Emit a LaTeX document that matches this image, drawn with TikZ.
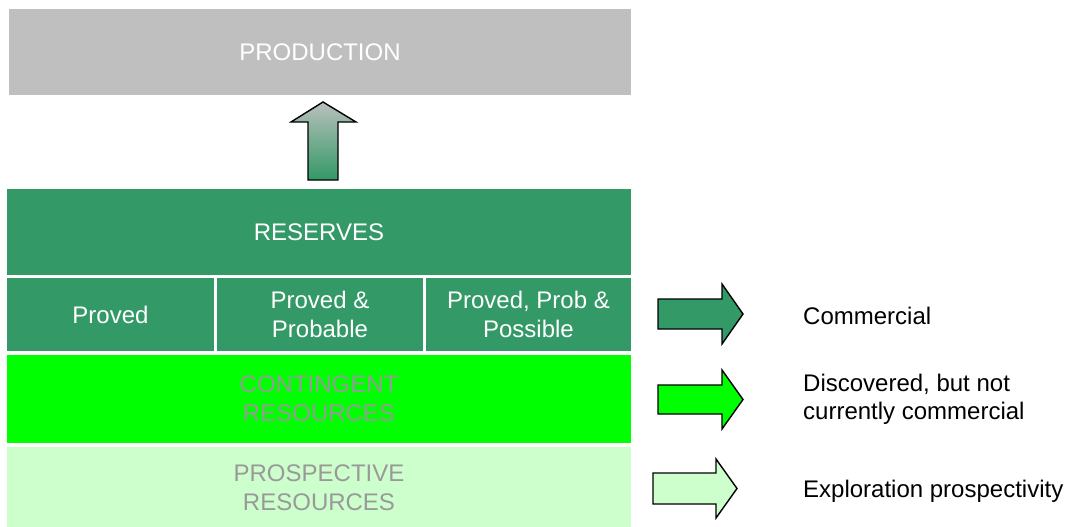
\documentclass[tikz,border=0pt]{standalone}
\usepackage{fontspec}
\setmainfont{Liberation Sans}
\definecolor{prodgray}{RGB}{191,191,191}
\definecolor{resgreen}{RGB}{51,153,102}
\definecolor{contgreen}{RGB}{0,255,0}
\definecolor{prospgreen}{RGB}{204,255,204}
\definecolor{dimtext}{RGB}{153,153,153}
\definecolor{arrowtop}{RGB}{184,192,188}
\tikzset{
  blk/.style={rectangle, inner sep=0pt, draw=none, align=center,
    font=\fontsize{24}{29}\selectfont},
  lbl/.style={anchor=west, align=left, inner sep=0pt,
    font=\fontsize{24}{28}\selectfont},
  fatarrow/.style={draw=black, line width=1.4pt, line join=miter},
}
\begin{document}
\begin{tikzpicture}[x=1pt,y=-1pt]
\useasboundingbox (0,0) rectangle (1066,527);
% blocks
\node[blk, fill=prodgray, text=white, minimum width=622, minimum height=86] (prod) at (320,52) {PRODUCTION};
\node[blk, fill=resgreen, text=white, minimum width=624, minimum height=86] (res) at (319,232) {RESERVES};
\node[blk, fill=resgreen, text=white, minimum width=207, minimum height=73] (c1) at (110.5,314.5) {Proved};
\node[blk, fill=resgreen, text=white, minimum width=206, minimum height=73] (c2) at (320,314.5) {Proved \&\\Probable};
\node[blk, fill=resgreen, text=white, minimum width=205, minimum height=73] (c3) at (528.5,314.5) {Proved, Prob \&\\Possible};
\node[blk, fill=contgreen, text=dimtext, minimum width=624, minimum height=88] (cont) at (319,399) {CONTINGENT\\RESOURCES};
\node[blk, fill=prospgreen, text=dimtext, minimum width=624, minimum height=81] (prosp) at (319,487.5) {PROSPECTIVE\\RESOURCES};
% up arrow
\shade[top color=arrowtop, bottom color=resgreen]
  (323,102) -- (356,122) -- (338,122) -- (338,180) -- (308,180) -- (308,122) -- (291,122) -- cycle;
\draw[fatarrow] (323,102) -- (356,122) -- (338,122) -- (338,180) -- (308,180) -- (308,122) -- (291,122) -- cycle;
% right arrows
\draw[fatarrow, fill=resgreen]
  (658,299) -- (722,299) -- (722,284) -- (743,314) -- (722,344) -- (722,329) -- (658,329) -- cycle;
\draw[fatarrow, fill=contgreen]
  (658,385) -- (722,385) -- (722,370) -- (743,399.5) -- (722,429) -- (722,414) -- (658,414) -- cycle;
\draw[fatarrow, fill=prospgreen]
  (653,473) -- (716,473) -- (716,459) -- (737,488.5) -- (716,518) -- (716,504) -- (653,504) -- cycle;
% labels
\node[lbl] (l1) at (803,316) {Commercial};
\node[lbl] (l2) at (803,399) {Discovered, but not\\currently commercial};
\node[lbl] (l3) at (803,491) {Exploration prospectivity};
\end{tikzpicture}
\end{document}
